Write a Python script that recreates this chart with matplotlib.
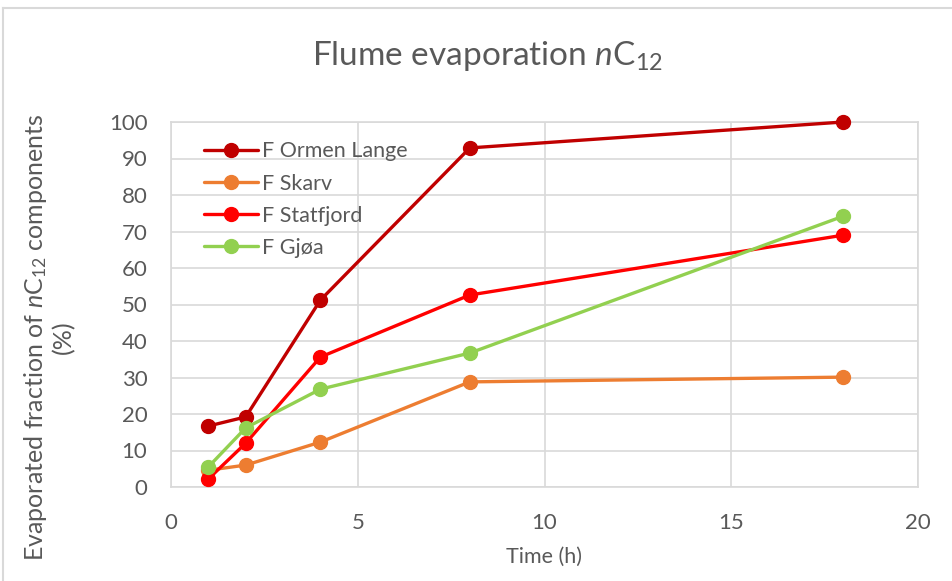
import matplotlib
matplotlib.use("Agg")
import matplotlib.pyplot as plt
from matplotlib.lines import Line2D

# Evaporation time series (hours) and evaporated fraction (%) per oil
time_h = [1, 2, 4, 8, 18]
ormen_lange = [16.7, 19.2, 51.2, 92.9, 100.0]
skarv = [4.6, 6.0, 12.3, 28.8, 30.1]
statfjord = [2.2, 12.0, 35.6, 52.6, 69.0]
gjoa = [5.5, 16.2, 26.8, 36.7, 74.2]

series_names = ["F Ormen Lange", "F Skarv", "F Statfjord", "F Gjøa"]
series_values = [ormen_lange, skarv, statfjord, gjoa]
series_colors = ["#C00000", "#ED7D31", "#FF0000", "#92D050"]

x_ticks = [0, 5, 10, 15, 20]
y_ticks = list(range(0, 101, 10))

text_color = "#595959"
grid_color = "#D9D9D9"

plt.rcParams["font.family"] = ["Lato", "DejaVu Sans"]
plt.rcParams["mathtext.fontset"] = "custom"
plt.rcParams["mathtext.rm"] = "Lato"
plt.rcParams["mathtext.it"] = "Lato:italic"

fig = plt.figure(figsize=(9.52, 5.81), dpi=100)
ax = fig.add_axes([171 / 952, 1 - 487 / 581, (918 - 171) / 952, (487 - 122) / 581])

for name, vals, col in zip(series_names, series_values, series_colors):
    ax.plot(time_h, vals, color=col, lw=2.4, marker="o", ms=10,
            label=name, solid_capstyle="round", clip_on=False, zorder=3)

ax.set_xlim(0, 20)
ax.set_ylim(0, 100)
ax.set_xticks(x_ticks)
ax.set_yticks(y_ticks)
ax.grid(True, color=grid_color, lw=1.2, zorder=0)
ax.set_axisbelow(True)
for sp in ax.spines.values():
    sp.set_color(grid_color)
    sp.set_linewidth(1.2)
ax.tick_params(length=0, labelsize=16, colors=text_color)
ax.tick_params(axis="y", pad=17)
ax.tick_params(axis="x", pad=19)

ax.set_xlabel("Time (h)", fontsize=15.5, color=text_color, labelpad=10)
ax.set_ylabel("Evaporated fraction of $\\mathit{n}$C$_{12}$ components\n(%)",
              fontsize=18, color=text_color, linespacing=1.15)
ax.yaxis.set_label_coords(-0.128, 0.41)

fig.text(487 / 952, 1 - 56 / 581, "Flume evaporation $\\mathit{n}$C$_{12}$",
         ha="center", va="center", fontsize=24, color=text_color)

leg = ax.legend(loc="upper left", bbox_to_anchor=(0.027, 0.982), frameon=False,
                fontsize=15.5, handlelength=2.5, handletextpad=0.2,
                labelspacing=0.56, borderaxespad=0.2)
for t in leg.get_texts():
    t.set_color(text_color)

# Chart frame
fig.add_artist(Line2D([3 / 952, 1.0], [1 - 8 / 581, 1 - 8 / 581],
                      transform=fig.transFigure, color=grid_color, lw=1.5))
fig.add_artist(Line2D([3 / 952, 3 / 952], [0.0, 1 - 8 / 581],
                      transform=fig.transFigure, color=grid_color, lw=1.5))

fig.savefig("out.png", dpi=100, facecolor="white")
